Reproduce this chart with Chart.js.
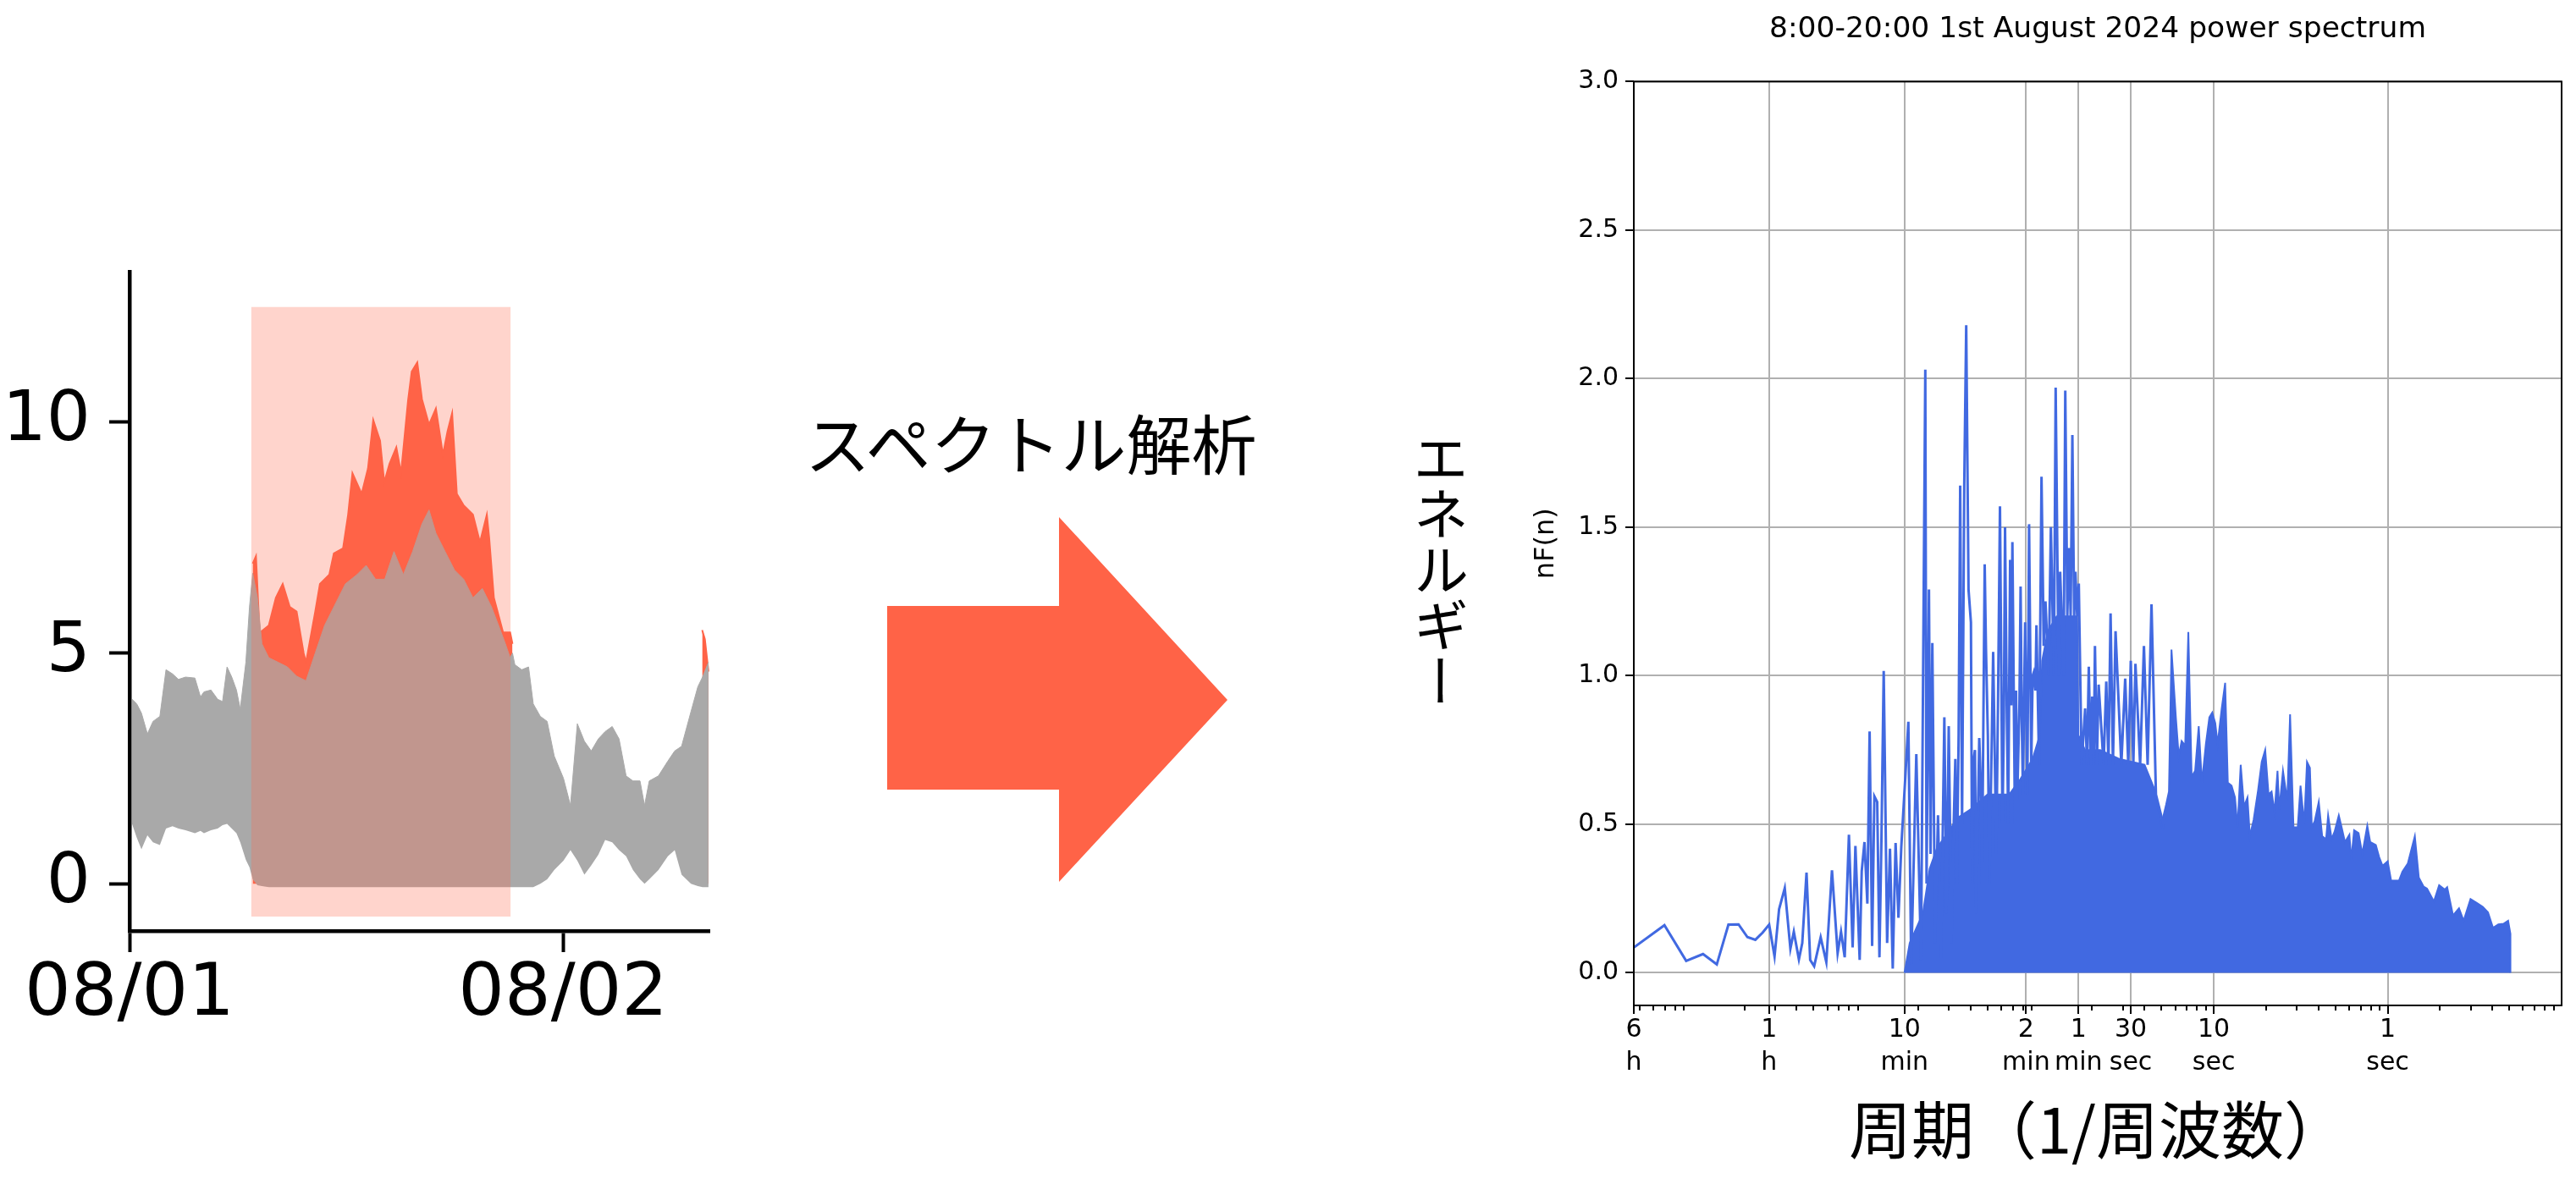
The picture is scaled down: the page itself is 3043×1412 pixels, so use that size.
<!DOCTYPE html>
<html lang="ja">
<head>
<meta charset="utf-8">
<title>スペクトル解析</title>
<script src="https://cdn.jsdelivr.net/npm/chart.js@4.4.1/dist/chart.umd.min.js"></script>
<style>
  html, body { margin: 0; padding: 0; background: #fff; }
  body { width: 3043px; height: 1412px; position: relative; overflow: hidden; font-family: "Noto Sans CJK JP", sans-serif; }
  #seriesChart { position: absolute; left: 0; top: 250px; }
  #spectrumChart { position: absolute; left: 1760px; top: 0; }
  .label { position: absolute; color: #000; line-height: 1; white-space: nowrap; }
  #analysis { left: 951px; top: 483px; font-size: 77px; }
  #energy { left: 1669px; top: 508px; font-size: 66px; writing-mode: vertical-rl; }
  #arrow { position: absolute; left: 1048px; top: 611px; width: 402px; height: 431px; background: #ff6347;
    clip-path: polygon(0 105px, 203px 105px, 203px 0, 402px 216px, 203px 431px, 203px 322px, 0 322px); }
</style>
</head>
<body>
<canvas id="seriesChart" width="880" height="1000"></canvas>
<div class="label" id="analysis">スペクトル解析</div>
<div id="arrow"></div>
<div class="label" id="energy">エネルギー</div>
<canvas id="spectrumChart" width="1283" height="1412"></canvas>
<script>
Chart.defaults.font.family = "'DejaVu Sans', sans-serif";
Chart.defaults.color = "#000";

// left panel: time series, x in hours from 08/01 00:00
const grayHours = [0.14, 0.40, 0.66, 0.99, 1.30, 1.68, 2.02, 2.38, 2.71, 3.10, 3.62, 3.93, 4.12, 4.51, 4.88, 5.15, 5.40, 5.66, 5.92, 6.13, 6.44, 6.64, 6.82,
  7.08, 7.33, 7.71, 8.23, 8.74, 9.25, 9.77, 10.28, 10.80, 11.31, 11.95, 12.59, 13.10, 13.62, 14.13, 14.64, 15.16, 15.67, 16.19, 16.58, 16.96, 17.47, 17.99,
  18.50, 19.01, 19.53, 20.04, 20.43, 20.81, 21.07, 21.20, 21.33, 21.71, 22.09, 22.35, 22.74, 23.12, 23.51, 24.02, 24.41, 24.79, 25.18, 25.56, 25.95,
  26.33, 26.72, 27.10, 27.49, 27.87, 28.26, 28.51, 28.77, 29.28, 29.80, 30.18, 30.56, 31.08, 31.46, 31.72, 32.05];
const grayTop = [4.0, 3.9, 3.7, 3.25, 3.52, 3.63, 4.64, 4.55, 4.43, 4.48, 4.46, 4.05, 4.16, 4.2, 4.0, 3.95, 4.7, 4.48, 4.2, 3.79, 4.8, 6.0, 6.73,
  6.2, 5.2, 4.9, 4.8, 4.7, 4.5, 4.4, 5.0, 5.6, 6.0, 6.5, 6.7, 6.9, 6.6, 6.6, 7.2, 6.7, 7.2, 7.8, 8.1, 7.6, 7.2, 6.8,
  6.6, 6.2, 6.4, 6.0, 5.6, 5.2, 4.9, 5.0, 4.75, 4.64, 4.7, 3.9, 3.63, 3.52, 2.77, 2.29, 1.7, 3.47, 3.09, 2.88, 3.14,
  3.3, 3.41, 3.14, 2.34, 2.23, 2.23, 1.7, 2.23, 2.34, 2.66, 2.88, 2.98, 3.73, 4.27, 4.48, 4.8];
const grayBottom = [1.3, 1.0, 0.75, 1.05, 0.9, 0.84, 1.2, 1.25, 1.2, 1.16, 1.1, 1.15, 1.1, 1.16, 1.2, 1.27, 1.3, 1.2, 1.1, 0.9, 0.52, 0.36, 0.1,
  -0.03, -0.05, -0.07, -0.07, -0.07, -0.07, -0.07, -0.07, -0.07, -0.07, -0.07, -0.07, -0.07, -0.07, -0.07, -0.07, -0.07, -0.07, -0.07, -0.07, -0.07, -0.07, -0.07,
  -0.07, -0.07, -0.07, -0.07, -0.07, -0.07, -0.07, -0.07, -0.07, -0.07, -0.07, -0.07, 0.0, 0.1, 0.3, 0.5, 0.73, 0.5, 0.2, 0.4, 0.63,
  0.95, 0.9, 0.73, 0.6, 0.3, 0.1, 0.0, 0.1, 0.3, 0.6, 0.73, 0.2, 0.0, -0.05, -0.07, -0.07];
const redHours = [6.82, 7.0, 7.2, 7.71, 8.1, 8.48, 8.87, 9.25, 9.64, 9.77, 10.28, 10.54, 11.06, 11.31, 11.82, 12.1, 12.34, 12.85, 13.2, 13.49, 13.87,
  14.1, 14.39, 14.77, 15.03, 15.42, 15.62, 15.93, 16.19, 16.58, 16.96, 17.35, 17.6, 17.86, 18.12, 18.5, 19.01, 19.4, 19.78, 19.91, 20.17, 20.68,
  21.07, 21.2, 26, 31.7, 31.85, 32.05];
const redTop = [6.94, 7.1, 5.44, 5.6, 6.2, 6.5, 6.0, 5.9, 5.0, 4.8, 5.9, 6.5, 6.7, 7.16, 7.27, 8.0, 8.9, 8.45, 9.0, 10.05, 9.6,
  8.7, 9.1, 9.46, 8.9, 10.48, 11.1, 11.3, 10.5, 9.95, 10.3, 9.3, 9.8, 10.2, 8.45, 8.2, 8.0, 7.4, 8.0, 7.5, 6.2, 5.45,
  5.45, 5.2, null, 5.5, 5.3, 4.6];
const windowHours = [6.73, 21.1];
const windowTop = 12.5;
const windowBottom = -0.71;
const dayTicks = [0, 24];
const dayLabels = ["08/01", "08/02"];
const valueTicks = [0, 5, 10];

// right panel: power spectrum, x = period in seconds
const spikePeriods = [21600, 14400, 10800, 8640, 7200, 6171, 5400, 4800, 4320, 3927, 3600, 3352, 3156, 2928, 2717, 2597, 2428, 2322, 2195, 2091,
  1984, 1820, 1689, 1567, 1454, 1390, 1324, 1252, 1192, 1149, 1086, 1057, 1019, 981, 952, 921, 894, 861, 836, 814, 790, 755, 727, 701, 675, 650,
  626, 592, 570, 549, 513, 482, 455.5, 448, 434, 425, 415, 400, 385, 370, 354, 344, 334, 322, 313, 306, 300, 293, 287, 280, 272, 265, 257, 249, 245, 241,
  236, 232, 223, 219, 215, 207.5, 204, 199, 195, 190, 185.5, 178, 174, 169.5, 164, 161, 158.5, 155, 152, 148.2, 146, 143.8, 139, 137, 134.9, 131, 129, 127,
  125, 123, 121.5, 118, 115.3, 112, 110, 108.6, 106, 104.6,
  101, 97.8, 95, 92.8, 89, 86.4, 83, 81.1, 78, 76.4, 73, 71.4, 69.5, 68, 66.5, 65, 63.5, 62.4, 61, 59.7, 57.5, 54.9, 53.5, 52.3, 51, 50, 49, 48.2,
  47, 45.9, 43, 41.5, 40.3, 39.2, 38, 36.7, 34, 32.3, 31, 30, 29, 28.2, 26.5, 25.2, 24, 22.8, 21.5, 19.5, 18.5];
const spikeValues = [0.085, 0.16, 0.04, 0.063, 0.028, 0.162, 0.163, 0.12, 0.111, 0.135, 0.162, 0.055, 0.214, 0.285, 0.081, 0.138, 0.045, 0.10, 0.337, 0.043,
  0.022, 0.119, 0.036, 0.345, 0.066, 0.138, 0.052, 0.465, 0.085, 0.427, 0.043, 0.342, 0.44, 0.233, 0.812, 0.09, 0.594, 0.575, 0.052, 0.451, 1.016, 0.10, 0.418, 0.014, 0.437, 0.185,
  0.423, 0.67, 0.845, 0.024, 0.736, 0.043, 2.03, 0.3, 1.29, 0.4, 1.11, 0.1, 0.53, 0.05, 0.86, 0.2, 0.83, 0.1, 0.49, 0.72, 0.3, 0.8, 1.64, 0.5, 1.64, 2.18, 1.29, 1.18, 0.3, 0.71,
  0.75, 0.2, 0.79, 0.65, 0.3, 1.375, 1.09, 0.8, 0.3, 0.7, 1.08, 0.4, 0.9, 1.57, 0.5, 0.85, 1.5, 0.9, 0.5, 1.39, 0.9, 1.45, 0.5, 0.95, 0.58, 0.9, 1.30, 0.85,
  0.6, 0.95, 1.18, 0.6, 1.51, 0.7, 1.0, 1.01, 0.95, 1.17,
  0.7, 1.67, 1.1, 1.25, 1.0, 1.50, 1.0, 1.97, 1.0, 1.35, 1.0, 1.96, 1.2, 1.43, 1.2, 1.81, 1.2, 1.35, 1.2, 1.31, 0.7, 0.89, 0.7, 1.03, 0.7, 0.93, 0.7, 1.10,
  0.7, 0.97, 0.7, 0.98, 0.7, 1.21, 0.7, 1.15, 0.7, 0.99, 0.7, 1.05, 0.7, 1.04, 0.7, 1.10, 0.7, 1.24, 0.6, 0.5, 0.57];
const bandPeriods = [600, 560, 470, 430, 390, 330, 300, 250, 200, 150, 130, 110, 100, 97, 90, 80, 70, 61, 60, 55, 45, 35, 25, 22, 20,
  18.8, 18.1, 17.5, 16.5, 15.9, 15.3, 14.6, 14.0, 13.4, 12.8, 12.2, 11.7, 11.1, 10.6, 10.2, 9.8, 9.5, 9.0, 8.6, 8.3, 7.9, 7.55, 7.3, 7.0, 6.7,
  6.4, 6.2, 5.9, 5.56, 5.3, 5.06, 4.84, 4.65, 4.47, 4.3, 4.2, 4.0, 3.78, 3.64, 3.48, 3.29, 3.17, 3.02, 2.91, 2.80, 2.73, 2.63, 2.49, 2.38, 2.26,
  2.20, 2.10, 2.02, 1.91, 1.84, 1.76, 1.66, 1.62, 1.56, 1.47, 1.40, 1.31, 1.26, 1.17, 1.12, 1.07, 1.0, 0.955, 0.897, 0.861, 0.823, 0.766, 0.698,
  0.662, 0.621, 0.594, 0.542, 0.506, 0.47, 0.455, 0.421, 0.389, 0.366, 0.334, 0.305, 0.284, 0.265, 0.248, 0.231, 0.216, 0.203, 0.197, 0.1969];
const bandValues = [0.0, 0.1, 0.2, 0.35, 0.42, 0.48, 0.52, 0.55, 0.6, 0.6, 0.65, 0.72, 0.8, 1.05, 1.15, 1.2, 1.2, 1.2, 0.8, 0.75, 0.75, 0.72, 0.7, 0.62, 0.5,
  0.565, 0.61, 1.088, 0.857, 0.73, 0.78, 0.765, 1.147, 0.66, 0.68, 0.83, 0.64, 0.77, 0.86, 0.876, 0.84, 0.77, 0.89, 0.976, 0.64, 0.63, 0.59, 0.49, 0.70, 0.56,
  0.59, 0.46, 0.515, 0.615, 0.71, 0.75, 0.60, 0.61, 0.54, 0.68, 0.55, 0.68, 0.58, 0.87, 0.49, 0.49, 0.63, 0.50, 0.71, 0.69, 0.49, 0.51, 0.575, 0.46, 0.45,
  0.53, 0.45, 0.475, 0.53, 0.49, 0.44, 0.465, 0.38, 0.48, 0.47, 0.40, 0.495, 0.44, 0.43, 0.39, 0.36, 0.375, 0.31, 0.31, 0.31, 0.34, 0.368, 0.46,
  0.32, 0.29, 0.283, 0.24, 0.295, 0.28, 0.288, 0.193, 0.217, 0.175, 0.248, 0.234, 0.222, 0.203, 0.151, 0.163, 0.165, 0.175, 0.132, 0.0];
const periodTicks = [21600, 3600, 600, 120, 60, 30, 10, 1];
const periodNums = ["6", "1", "10", "2", "1", "30", "10", "1"];
const periodUnits = ["h", "h", "min", "min", "min", "sec", "sec", "sec"];
const nfTicks = [0, 0.5, 1.0, 1.5, 2.0, 2.5, 3.0];

const pts = (xs, ys) => xs.map((x, i) => ({ x: x, y: ys[i] }));

new Chart(document.getElementById("seriesChart"), {
  type: "line",
  data: {
    datasets: [
      { data: pts(grayHours, grayBottom), borderColor: "transparent", borderWidth: 0, pointRadius: 0, fill: false, order: 2 },
      { data: pts(grayHours, grayTop), borderColor: "#a9a9a9", backgroundColor: "#a9a9a9", borderWidth: 1, pointRadius: 0, fill: "-1", order: 1 },
      { data: pts(redHours, redTop), borderColor: "#ff6347", backgroundColor: "#ff6347", borderWidth: 2, pointRadius: 0, fill: "origin", order: 3 },
      { data: windowHours.map(h => ({ x: h, y: windowTop })), borderColor: "transparent", borderWidth: 0, pointRadius: 0,
        backgroundColor: "rgba(255, 99, 71, 0.28)", fill: { value: windowBottom }, order: 0 }
    ]
  },
  options: {
    responsive: false, animation: false, devicePixelRatio: 1,
    layout: { padding: { top: 68, right: 42 } },
    plugins: { legend: { display: false }, tooltip: { enabled: false } },
    scales: {
      x: {
        type: "linear", min: 0, max: 32.1,
        afterBuildTicks: s => { s.ticks = dayTicks.map(v => ({ value: v })); },
        afterFit: s => { s.height = 150; },
        grid: { drawOnChartArea: false, tickLength: 25, tickWidth: 4, tickColor: "#000" },
        border: { color: "#000", width: 4.5 },
        ticks: { font: { size: 86 }, padding: 0, maxRotation: 0, autoSkip: false, callback: (v, i) => dayLabels[i] }
      },
      y: {
        min: -1.02, max: 13.26,
        afterBuildTicks: s => { s.ticks = valueTicks.map(v => ({ value: v })); },
        afterFit: s => { s.width = 153; },
        grid: { drawOnChartArea: false, tickLength: 24, tickWidth: 4, tickColor: "#000" },
        border: { color: "#000", width: 4.5 },
        ticks: { font: { size: 82 }, padding: 22, callback: v => String(v) }
      }
    }
  }
});

// box round the axes plus major and minor tick marks under the x axis
const frame = {
  id: "frame",
  afterDatasetsDraw(chart) {
    const { ctx, chartArea: a } = chart;
    const x = chart.scales.x;
    const minor = [];
    for (let e = -5; e <= 0; e++) {
      for (let m = 2; m <= 9; m++) {
        const p = 1 / (m * Math.pow(10, e));
        if (p >= 0.1 && p <= 21600) minor.push(p);
      }
    }
    ctx.save();
    ctx.strokeStyle = "#000";
    ctx.lineWidth = 2;
    ctx.strokeRect(a.left, a.top, a.right - a.left, a.bottom - a.top);
    ctx.beginPath();
    periodTicks.forEach(p => {
      const px = Math.round(x.getPixelForValue(p));
      ctx.moveTo(px, a.bottom); ctx.lineTo(px, a.bottom + 10);
    });
    minor.forEach(p => {
      const px = Math.round(x.getPixelForValue(p));
      ctx.moveTo(px, a.bottom); ctx.lineTo(px, a.bottom + 6);
    });
    ctx.stroke();
    ctx.restore();
  }
};

new Chart(document.getElementById("spectrumChart"), {
  type: "line",
  data: {
    datasets: [
      { data: pts(spikePeriods, spikeValues), borderColor: "#4169e1", borderWidth: 3, pointRadius: 0, fill: false, order: 0 },
      { data: pts(bandPeriods, bandValues), borderColor: "#4169e1", backgroundColor: "#4169e1", borderWidth: 2, pointRadius: 0, fill: "origin", order: 1 }
    ]
  },
  options: {
    responsive: false, animation: false, devicePixelRatio: 1,
    layout: { padding: { right: 17 } },
    plugins: {
      legend: { display: false }, tooltip: { enabled: false },
      title: { display: true, text: "8:00-20:00 1st August 2024 power spectrum", fullSize: false,
        font: { size: 34.5, weight: "normal" }, color: "#000", padding: { top: 14, bottom: 41 } }
    },
    scales: {
      x: {
        type: "logarithmic", reverse: true, min: 0.1, max: 21600,
        afterBuildTicks: s => { s.ticks = periodTicks.map(v => ({ value: v })); },
        afterFit: s => { s.height = 224; },
        grid: { color: "#b0b0b0", lineWidth: 2, drawTicks: false },
        border: { display: false },
        ticks: { font: { size: 30, lineHeight: 1.3 }, padding: 10, maxRotation: 0, autoSkip: false,
          callback: (v, i) => [periodNums[i], periodUnits[i]] },
        title: { display: true, text: "周期（1/周波数）", color: "#000",
          font: { family: "'Noto Sans CJK JP', sans-serif", size: 74 }, padding: { top: 0, bottom: 33 } }
      },
      y: {
        min: -0.11, max: 3,
        afterBuildTicks: s => { s.ticks = nfTicks.map(v => ({ value: v })); },
        afterFit: s => { s.width = 170; },
        grid: { color: "#b0b0b0", lineWidth: 2, tickLength: 10, tickColor: "#000", tickWidth: 2 },
        border: { display: false },
        ticks: { font: { size: 30 }, padding: 8, callback: v => v.toFixed(1) },
        title: { display: true, text: "nF(n)", color: "#000", font: { size: 32 }, padding: { top: 47, bottom: 0 } }
      }
    }
  },
  plugins: [frame]
});
</script>
</body>
</html>
